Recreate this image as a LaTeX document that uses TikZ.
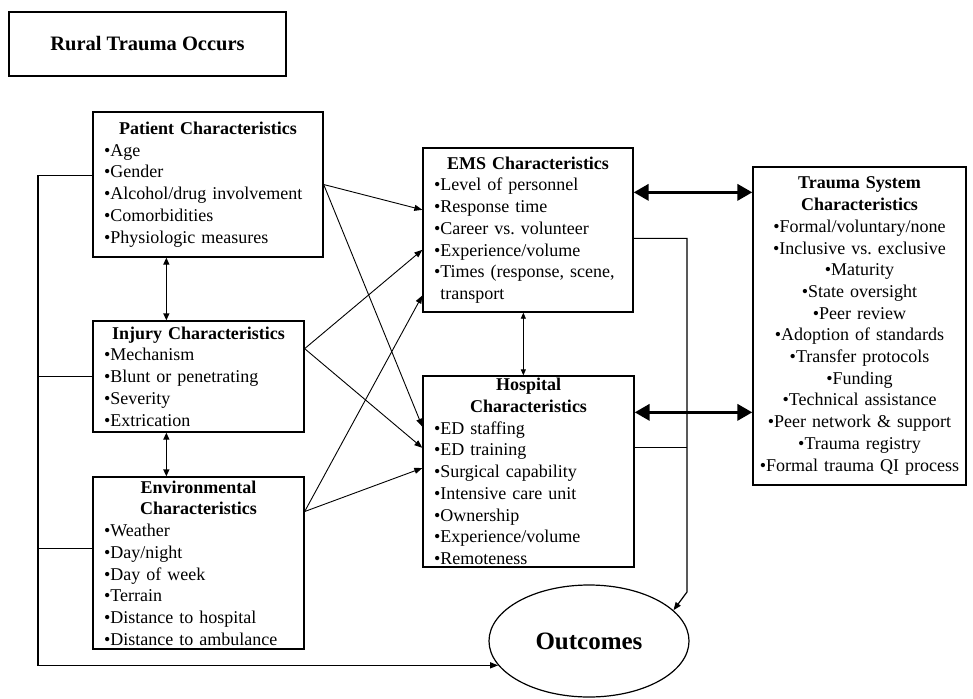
\documentclass[tikz,border=0pt]{standalone}
\usepackage{fontspec}
\setmainfont{Liberation Serif}
\usetikzlibrary{arrows.meta,calc,shapes.geometric}
\frenchspacing
\begin{document}
\begin{tikzpicture}[x=1pt,y=-1pt,
  box/.style={draw,line width=1.3pt,rectangle,inner xsep=11pt,inner ysep=0pt,align=left,font=\fontsize{18}{21.7}\selectfont},
  tbox/.style={draw,line width=1.3pt,rectangle,inner xsep=5pt,inner ysep=0pt,align=center,font=\fontsize{18}{21.7}\selectfont},
  arr/.style={-{Triangle[length=8pt,width=6pt]},line width=0.9pt},
  conn/.style={line width=1.2pt},
  dbl/.style={{Triangle[length=7pt,width=6pt]}-{Triangle[length=7pt,width=6pt]},line width=1.3pt},
  dblthin/.style={{Triangle[length=6pt,width=5pt]}-{Triangle[length=6pt,width=5pt]},line width=0.8pt},
  big/.style={{Triangle[length=15pt,width=16pt]}-{Triangle[length=15pt,width=16pt]},line width=3.5pt}]
\newcommand{\ttl}[1]{\makebox[\hsize][c]{\bfseries #1}}
\useasboundingbox (0,0) rectangle (973,698);

\node[draw,line width=1.3pt,minimum width=277,minimum height=64,font=\fontsize{20.5}{24}\selectfont\bfseries] (rural) at (147.5,44) {Rural Trauma Occurs};

\node[box,text width=208,minimum height=145] (pat) at (208,184.5)
  {\ttl{Patient Characteristics}\\•Age\\•Gender\\•Alcohol/drug involvement\\•Comorbidities\\•Physiologic measures};
\node[box,text width=189,minimum height=111] (inj) at (198.5,376.5)
  {\ttl{Injury Characteristics}\\•Mechanism\\•Blunt or penetrating\\•Severity\\•Extrication};
\node[box,text width=189,minimum height=172] (env) at (198.5,563)
  {\ttl{Environmental}\\\ttl{Characteristics}\\•Weather\\•Day/night\\•Day of week\\•Terrain\\•Distance to hospital\\•Distance to ambulance};
\node[box,text width=188,minimum height=164] (ems) at (528,230)
  {\ttl{EMS Characteristics}\\•Level of personnel\\•Response time\\•Career vs. volunteer\\•Experience/volume\\•Times (response, scene,\\\phantom{•}transport};
\node[box,text width=189,minimum height=191] (hosp) at (528.5,471.5)
  {\ttl{Hospital}\\\ttl{Characteristics}\\•ED staffing\\•ED training\\•Surgical capability\\•Intensive care unit\\•Ownership\\•Experience/volume\\•Remoteness};
\node[tbox,text width=203,minimum height=318] (trauma) at (859.5,326)
  {\textbf{Trauma System}\\\textbf{Characteristics}\\•Formal/voluntary/none\\•Inclusive vs. exclusive\\•Maturity\\•State oversight\\•Peer review\\•Adoption of standards\\•Transfer protocols\\•Funding\\•Technical assistance\\•Peer network \& support\\•Trauma registry\\•Formal trauma QI process};

\node[draw,ellipse,line width=1.2pt,minimum width=200,minimum height=112,inner sep=0pt,font=\fontsize{25}{30}\selectfont\bfseries] (out) at (589,641) {Outcomes};

% factor arrows
\draw[arr] (pat.east) -- ($(ems.north west)!0.378!(ems.south west)$);
\draw[arr] (pat.east) -- ($(hosp.north west)!0.267!(hosp.south west)$);
\coordinate (iR) at ($(inj.north east)!0.252!(inj.south east)$);
\draw[arr] (iR) -- ($(ems.north west)!0.62!(ems.south west)$);
\draw[arr] (iR) -- ($(hosp.north west)!0.377!(hosp.south west)$);
\coordinate (eR) at ($(env.north east)!0.203!(env.south east)$);
\draw[arr] (eR) -- ($(ems.north west)!0.896!(ems.south west)$);
\draw[arr] (eR) -- ($(hosp.north west)!0.482!(hosp.south west)$);

% vertical double arrows
\draw[dbl] ($(pat.south west)+(74,0)$) -- ($(inj.north west)+(74,0)$);
\draw[dbl] ($(inj.south west)+(74,0)$) -- ($(env.north west)+(74,0)$);
\draw[dblthin] ($(ems.south west)+(101,0)$) -- ($(hosp.north west)+(101,0)$);

% big double arrows
\coordinate (eT) at ($(ems.north east)+(0,45)$);
\draw[big] (eT) -- (eT -| trauma.west);
\coordinate (hT) at ($(hosp.north east)+(0,37)$);
\draw[big] (hT) -- (hT -| trauma.west);

% right line to outcomes
\coordinate (eO) at ($(ems.north east)+(0,91)$);
\coordinate (hO) at ($(hosp.north east)+(0,72)$);
\coordinate (rl) at (687,592);
\draw[conn] (hO) -- (hO -| rl);
\draw[arr,line width=1.2pt] (eO) -| (rl) -- (out.20);

% left line to outcomes
\coordinate (ll) at (38,0);
\coordinate (pb) at ($(pat.north west)+(0,64)$);
\coordinate (ib) at ($(inj.north west)+(0,56)$);
\coordinate (eb) at ($(env.north west)+(0,72)$);
\draw[arr,line width=1.2pt] (pb) -| (ll |- out.195) -- (out.195);
\draw[conn] (ib) -- (ib -| ll);
\draw[conn] (eb) -- (eb -| ll);
\end{tikzpicture}
\end{document}
